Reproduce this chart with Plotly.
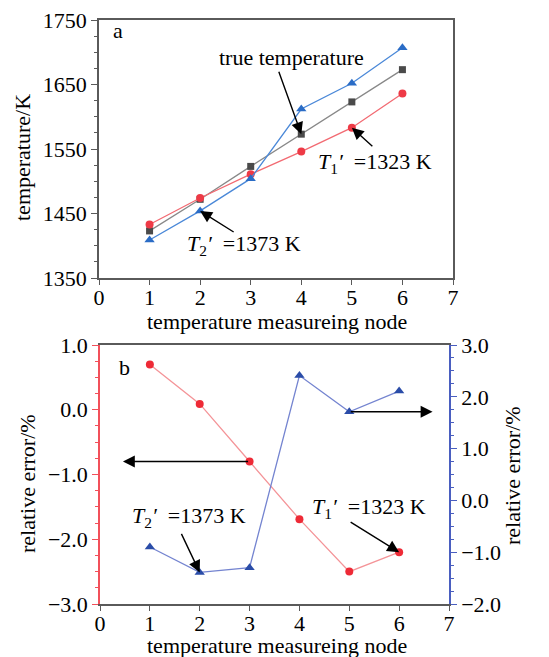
import plotly.graph_objects as go

# ---- data ----
nodes = [1, 2, 3, 4, 5, 6]
true_temp = [1423, 1472, 1523, 1573, 1623, 1673]
t1_temp = [1433, 1474, 1511, 1546, 1583, 1636]   # T1' = 1323 K
t2_temp = [1409, 1454, 1504, 1612, 1652, 1707]   # T2' = 1373 K
t1_err = [0.70, 0.09, -0.80, -1.69, -2.50, -2.20]  # left axis
t2_err = [-0.90, -1.39, -1.30, 2.41, 1.71, 2.11]   # right axis

temp_ticks = [1350, 1450, 1550, 1650, 1750]

W, H = 549, 657
FONT = "Liberation Serif, Times New Roman, serif"
FS = 22
GRAY = "#5a5a5a"
RED_T, RED_TL = "#ee3a46", "#f26a72"
BLUE_T, BLUE_TL = "#2a6cc6", "#4a88d8"
GRAY_M, GRAY_L = "#4a4a4a", "#888888"
RED_B, RED_BL = "#ee2a36", "#f49498"
BLUE_B, BLUE_BL = "#2a4ca8", "#7484d0"
RED_AX, BLUE_AX = "#f2505a", "#4a5ec0"

def px(x):
    return x / W

def py(y):
    return 1 - y / H

fig = go.Figure()

# top panel
fig.add_trace(go.Scatter(x=nodes, y=true_temp, mode="lines+markers",
                         line=dict(color=GRAY_L, width=1.3),
                         marker=dict(symbol="square", size=7, color=GRAY_M),
                         xaxis="x", yaxis="y"))
fig.add_trace(go.Scatter(x=nodes, y=t1_temp, mode="lines+markers",
                         line=dict(color=RED_TL, width=1.3),
                         marker=dict(symbol="circle", size=8, color=RED_T),
                         xaxis="x", yaxis="y"))
fig.add_trace(go.Scatter(x=nodes, y=t2_temp, mode="lines+markers",
                         line=dict(color=BLUE_TL, width=1.3),
                         marker=dict(symbol="triangle-up", size=9, color=BLUE_T),
                         xaxis="x", yaxis="y"))

# bottom panel
fig.add_trace(go.Scatter(x=nodes, y=t1_err, mode="lines+markers",
                         line=dict(color=RED_BL, width=1.3),
                         marker=dict(symbol="circle", size=8, color=RED_B),
                         xaxis="x2", yaxis="y2"))
fig.add_trace(go.Scatter(x=nodes, y=t2_err, mode="lines+markers",
                         line=dict(color=BLUE_BL, width=1.3),
                         marker=dict(symbol="triangle-up", size=9, color=BLUE_B),
                         xaxis="x2", yaxis="y3"))

tickfont = dict(family=FONT, size=FS, color="black")

xcommon = dict(range=[0, 7], dtick=1, tick0=0, ticks="outside", ticklen=5,
               tickwidth=1.3, tickcolor=GRAY, showline=True, linecolor=GRAY,
               linewidth=1.6, mirror=True, showgrid=False, zeroline=False,
               tickfont=tickfont, ticklabelstandoff=-6)

fig.update_layout(
    width=W, height=H,
    margin=dict(l=0, r=0, t=0, b=0, autoexpand=False),
    paper_bgcolor="white", plot_bgcolor="white",
    showlegend=False,
    font=dict(family=FONT, size=FS, color="black"),
    xaxis=dict(domain=[px(99), px(453)], anchor="y", **xcommon),
    yaxis=dict(domain=[py(278), py(20)], anchor="x", range=[1350, 1750],
               tickvals=temp_ticks, ticks="outside", ticklen=6, tickwidth=1.3,
               tickcolor=GRAY, showline=True, linecolor=GRAY, linewidth=1.6,
               mirror=True, showgrid=False, zeroline=False, tickfont=tickfont,
               minor=dict(dtick=25, tick0=1350, ticks="outside", ticklen=3,
                          tickcolor=GRAY, tickwidth=1.2)),
    xaxis2=dict(domain=[px(100), px(449)], anchor="y2", **xcommon),
    yaxis2=dict(domain=[py(604), py(345)], anchor="x2", range=[-3, 1],
                dtick=1, tick0=-3, tickformat=".1f", ticks="outside", ticklen=6,
                tickwidth=1.3, tickcolor=RED_AX, showline=True, linecolor=RED_AX,
                linewidth=1.6, showgrid=False, zeroline=False, tickfont=tickfont,
                minor=dict(dtick=0.25, ticks="outside", ticklen=3,
                           tickcolor=RED_AX, tickwidth=1.2)),
    yaxis3=dict(overlaying="y2", side="right", anchor="x2", range=[-2, 3],
                dtick=1, tick0=-2, tickformat=".1f", ticks="outside", ticklen=6,
                tickwidth=1.3, tickcolor=BLUE_AX, showline=True, linecolor=BLUE_AX,
                linewidth=1.6, showgrid=False, zeroline=False, tickfont=tickfont,
                minor=dict(dtick=0.25, ticks="outside", ticklen=3,
                           tickcolor=BLUE_AX, tickwidth=1.2)),
)

ann = []

def text(x, y, s, angle=0, xanchor="center"):
    ann.append(dict(x=px(x), y=py(y), xref="paper", yref="paper", text=s,
                    showarrow=False, textangle=angle, xanchor=xanchor,
                    yanchor="middle", font=dict(family=FONT, size=FS, color="black")))

def arrow(x, y, ax, ay, xref, yref, axref="pixel", ayref="pixel"):
    ann.append(dict(x=x, y=y, ax=ax, ay=ay, xref=xref, yref=yref,
                    axref=axref, ayref=ayref, text="", showarrow=True,
                    arrowhead=2, arrowsize=1.7, arrowwidth=1.4,
                    arrowcolor="black", standoff=0))

t1_label = "<i>T</i><sub>1</sub><i>′</i>  =1323 K"
t2_label = "<i>T</i><sub>2</sub><i>′</i>  =1373 K"

# axis titles
text(22, 158, "temperature/K", angle=-90)
text(277, 321, "temperature measureing node")
text(27, 484, "relative error/%", angle=-90)
text(512, 476, "relative error/%", angle=-90)
text(277, 645, "temperature measureing node")

# panel labels
text(118, 31, "a")
text(124, 367, "b")

# top annotations
text(291, 57, "true temperature")
arrow(nodes[3], true_temp[3], -23, -64, "x", "y")
text(316, 163, t1_label, xanchor="left")
arrow(nodes[4], t1_temp[4], 22, 20, "x", "y")
text(185, 245, t2_label, xanchor="left")
arrow(nodes[1], t2_temp[1], 35, 22, "x", "y")

# bottom annotations
arrow(0.46, t1_err[2], nodes[2], t1_err[2], "x2", "y2", axref="x2", ayref="y2")
arrow(6.67, t2_err[4], nodes[4], t2_err[4], "x2", "y3", axref="x2", ayref="y3")
text(130, 517, t2_label, xanchor="left")
arrow(nodes[1], t2_err[1], -19, -40, "x2", "y3")
text(310, 508, t1_label, xanchor="left")
arrow(nodes[5], t1_err[5], -50, -31, "x2", "y2")

fig.update_layout(annotations=ann)

fig.write_html("out.html",
               config={"displayModeBar": False},
               post_script="document.body.style.margin='0';"
                           "document.body.style.overflow='hidden';")
